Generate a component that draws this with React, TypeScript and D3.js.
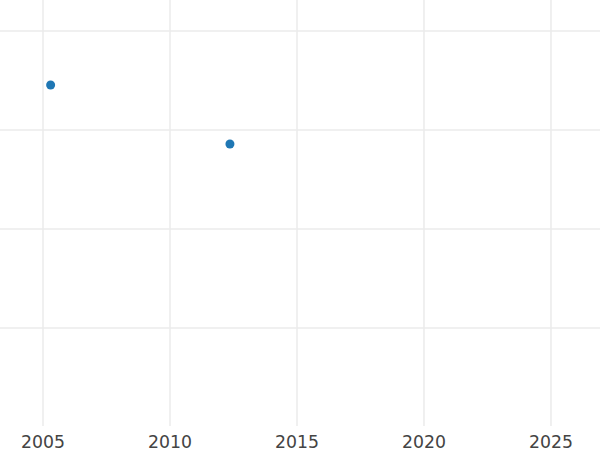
import React from "react";
import * as d3 from "d3";

const years = [2005.3, 2012.36];
const values = [3.455, 2.859];
const xTicks = [2005, 2010, 2015, 2020, 2025];
const yTicks = [1, 2, 3, 4];

export default function App() {
  const W = 600, H = 450;
  const x = d3.scaleLinear().domain([2003.307, 2026.93]).range([0, 600]);
  const y = d3.scaleLinear().domain([0, 4]).range([427, 31]);
  return (
    <svg width={W} height={H} style={{ position: "absolute", left: 0, top: 0, background: "#fff" }}>
      {yTicks.map((t) => (
        <line key={"h" + t} x1={0} x2={W} y1={y(t)} y2={y(t)} stroke="#ebebeb" strokeWidth={1.5} />
      ))}
      {xTicks.map((t) => (
        <line key={"v" + t} x1={x(t)} x2={x(t)} y1={0} y2={426} stroke="#ebebeb" strokeWidth={1.5} />
      ))}
      {xTicks.map((t) => (
        <text key={"t" + t} x={x(t)} y={447.5} textAnchor="middle" fontFamily="DejaVu Sans" fontSize={17.3} fill="#444">
          {t}
        </text>
      ))}
      {years.map((yr, i) => (
        <circle key={i} cx={x(yr)} cy={y(values[i])} r={4.5} fill="#1f77b4" />
      ))}
    </svg>
  );
}
